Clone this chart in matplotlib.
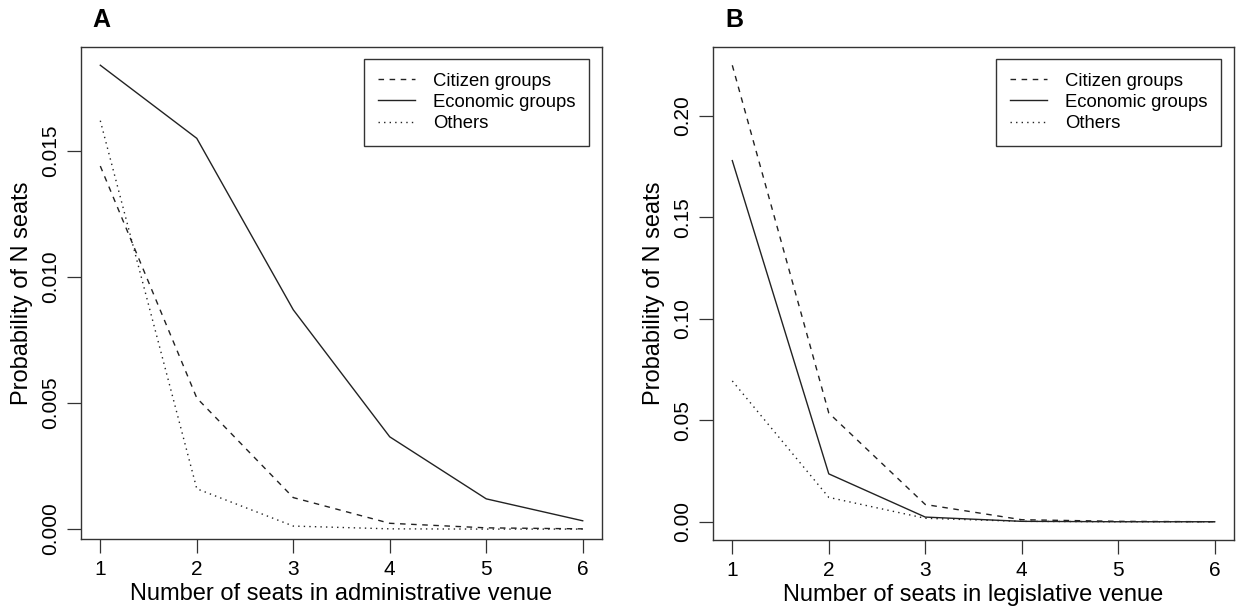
import matplotlib
matplotlib.use("Agg")
import matplotlib.pyplot as plt
from matplotlib.lines import Line2D

plt.rcParams['font.family'] = ['Liberation Sans', 'DejaVu Sans']

seats = [1, 2, 3, 4, 5, 6]
series_names = ["Citizen groups", "Economic groups", "Others"]

# Panel A: administrative venue
admin_citizen = [0.0144, 0.0052, 0.00125, 0.00023, 0.00005, 0.00001]
admin_economic = [0.0184, 0.0155, 0.0087, 0.00366, 0.0012, 0.00033]
admin_others = [0.0162, 0.0016, 0.00012, 0.00001, 0.0, 0.0]

# Panel B: legislative venue
leg_citizen = [0.225, 0.0536, 0.0085, 0.0010, 0.0002, 0.0]
leg_economic = [0.178, 0.0236, 0.0023, 0.0002, 0.0, 0.0]
leg_others = [0.0694, 0.0120, 0.0017, 0.0002, 0.0, 0.0]

admin_yticks = [0.0, 0.005, 0.010, 0.015]
admin_yticklabels = ["0.000", "0.005", "0.010", "0.015"]
leg_yticks = [0.0, 0.05, 0.10, 0.15, 0.20]
leg_yticklabels = ["0.00", "0.05", "0.10", "0.15", "0.20"]

W, H = 1239, 616
fig = plt.figure(figsize=(W / 100, H / 100), dpi=100)

col = "#222222"
styles = [dict(ls=(0, (4, 4)), lw=1.0), dict(ls='-', lw=1.0), dict(ls=(0, (1, 3)), lw=1.0)]


def panel(rect, data, range_series, yticks, yticklabels, xlabel, letter, letter_x, leg_anchor):
    l, r, t, b = rect
    ax = fig.add_axes([l / W, 1 - b / H, (r - l) / W, (b - t) / H])
    for vals, st in zip(data, styles):
        ax.plot(seats, vals, color=col, **st)
    # R-style: y range taken from the first plotted series, 4% padding
    ymin, ymax = min(range_series), max(range_series)
    pad = (ymax - ymin) * 0.04
    ax.set_ylim(ymin - pad, ymax + pad)
    ax.set_xlim(1 - 0.2, 6 + 0.2)
    ax.set_xticks(seats)
    ax.set_xticklabels([str(s) for s in seats])
    ax.set_yticks(yticks)
    ax.set_yticklabels(yticklabels, rotation=90, va='center')
    ax.tick_params(axis='both', direction='out', length=10, width=0.9, colors='#333333',
                   labelsize=15, labelcolor='black')
    ax.tick_params(axis='x', pad=5)
    ax.tick_params(axis='y', pad=5)
    for s in ax.spines.values():
        s.set_linewidth(1.0)
        s.set_color('#333333')
    ax.set_xlabel(xlabel, fontsize=17, labelpad=3)
    ax.set_ylabel("Probability of N seats", fontsize=17, labelpad=6)
    fig.text(letter_x / W, 1 - 20 / H, letter, fontsize=18, fontweight='bold', va='center', ha='left')
    handles = [Line2D([0], [0], color=col, **st) for st in styles]
    ax_, ay_ = leg_anchor
    leg = ax.legend(handles, series_names, loc='upper right', fontsize=13.3,
                    frameon=True, fancybox=False, edgecolor='black', borderpad=0.75,
                    borderaxespad=0.0, handlelength=2.0, handletextpad=0.95,
                    labelspacing=0.22,
                    bbox_to_anchor=(ax_ / W, 1 - ay_ / H), bbox_transform=fig.transFigure)
    leg.get_frame().set_linewidth(1.0)
    return ax


panel((81, 602, 47, 539), [admin_citizen, admin_economic, admin_others], admin_economic,
      admin_yticks, admin_yticklabels, "Number of seats in administrative venue", "A", 92,
      (589, 59))
panel((713, 1234, 47, 540), [leg_citizen, leg_economic, leg_others], leg_citizen,
      leg_yticks, leg_yticklabels, "Number of seats in legislative venue", "B", 725,
      (1221, 59))

fig.savefig("out.png", dpi=100)
